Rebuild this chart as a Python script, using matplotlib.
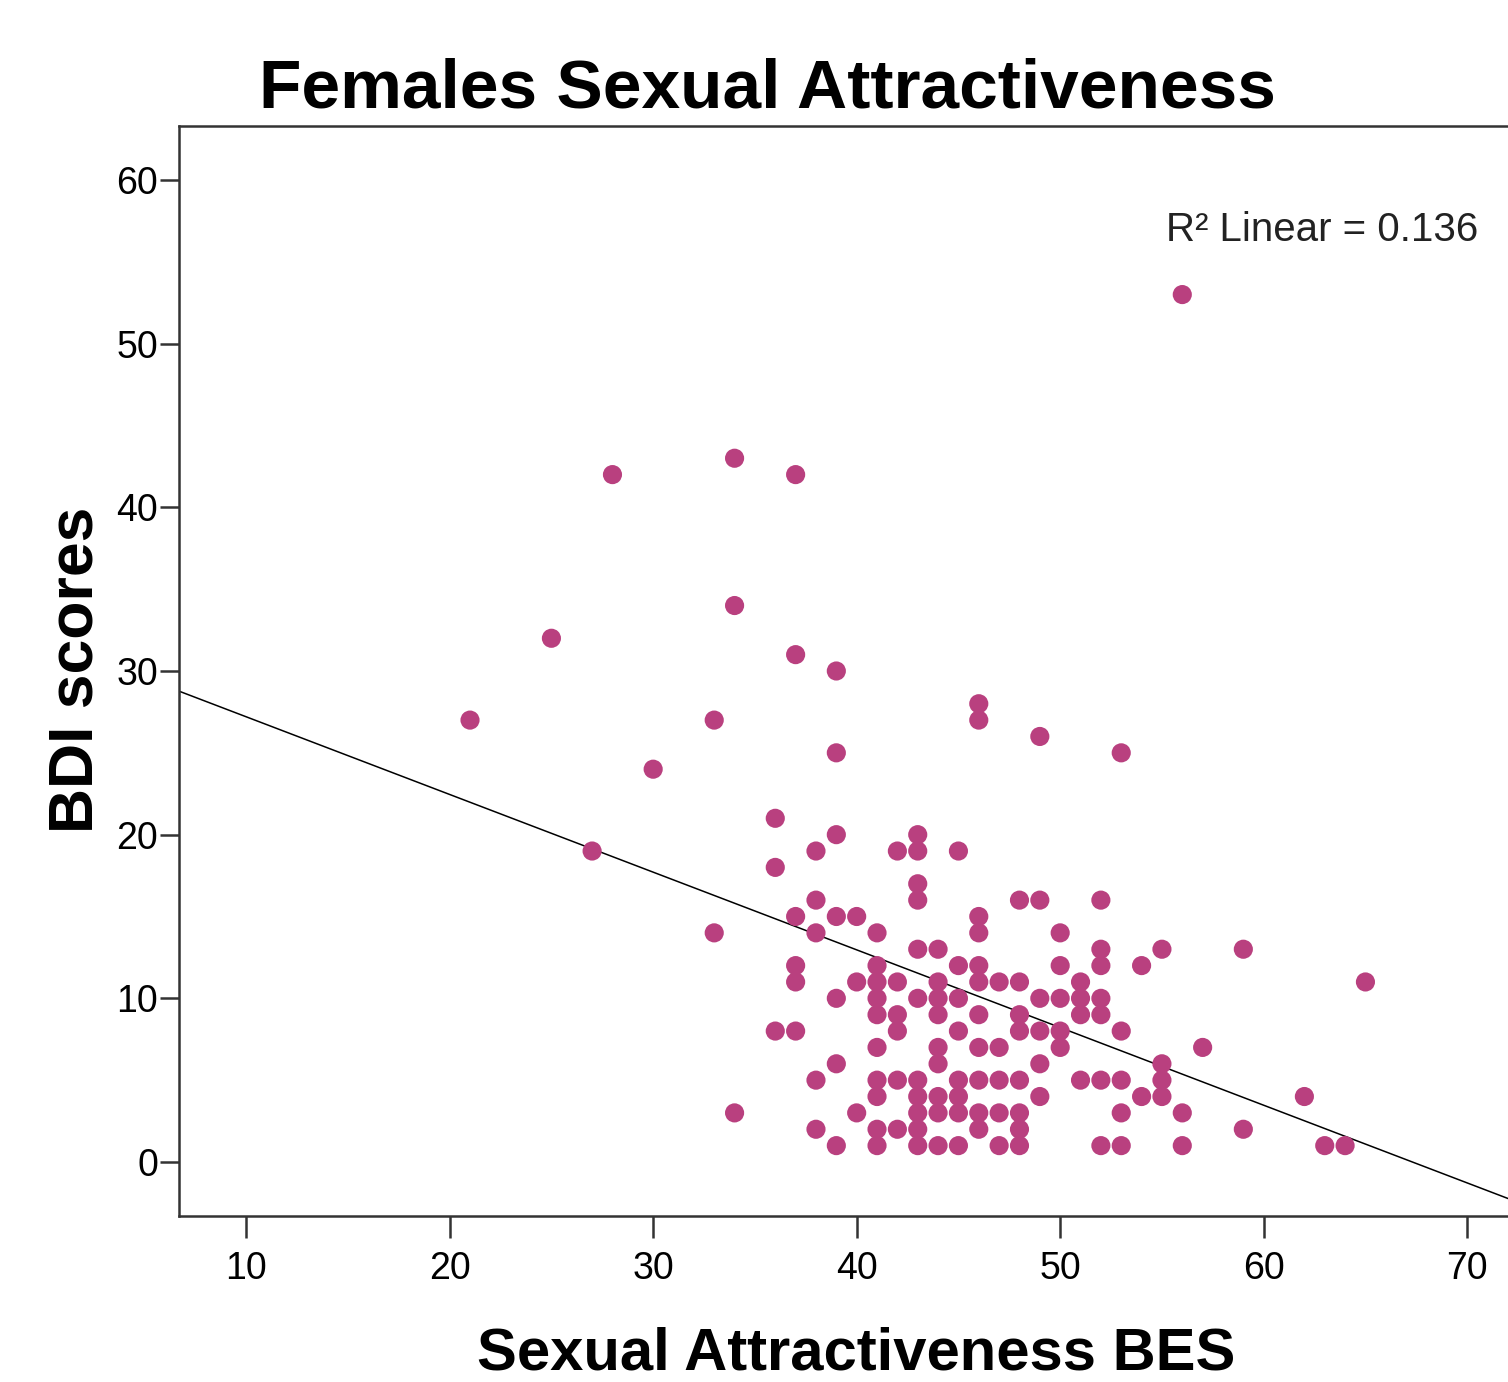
import matplotlib.pyplot as plt
import numpy as np

plt.rcParams['font.family'] = ['Liberation Sans', 'DejaVu Sans']

# Sexual Attractiveness BES score -> list of BDI scores at that score
bes_values = [21, 25, 27, 28, 30, 33, 34, 36, 37, 38, 39, 40, 41, 42, 43, 44, 45,
              46, 47, 48, 49, 50, 51, 52, 53, 54, 55, 56, 57, 59, 62, 63, 64, 65]
bdi_groups = [
    [27],
    [32],
    [19],
    [42],
    [24],
    [27, 14],
    [43, 34, 3],
    [21, 18, 8],
    [42, 31, 15, 12, 11, 8],
    [19, 16, 14, 5, 2],
    [30, 25, 20, 15, 10, 6, 1],
    [15, 11, 3],
    [14, 12, 11, 10, 9, 7, 5, 4, 2, 1],
    [19, 11, 9, 8, 5, 2],
    [20, 19, 17, 16, 13, 10, 5, 4, 3, 2, 1],
    [13, 11, 10, 9, 7, 6, 4, 3, 1],
    [19, 12, 10, 8, 5, 4, 3, 1],
    [28, 27, 15, 14, 12, 11, 9, 7, 5, 3, 2],
    [11, 7, 5, 3, 1],
    [16, 11, 9, 8, 5, 3, 2, 1],
    [26, 16, 10, 8, 6, 4],
    [14, 12, 10, 8, 7],
    [11, 10, 9, 5],
    [16, 13, 12, 10, 9, 5, 1],
    [25, 8, 5, 3, 1],
    [12, 4],
    [13, 6, 5, 4],
    [53, 3, 1],
    [7],
    [13, 2],
    [4],
    [1],
    [1],
    [11],
]
# fit line as shown in the chart (full sample, some points hidden under others)
fit_slope = -0.4747
fit_intercept = 31.95
x_ticks = [10, 20, 30, 40, 50, 60, 70]
y_ticks = [0, 10, 20, 30, 40, 50, 60]
r2_text = "R\u00b2 Linear = 0.136"


def main():
    x = []
    y = []
    for b, group in zip(bes_values, bdi_groups):
        for v in group:
            x.append(b)
            y.append(v)

    fig = plt.figure(figsize=(15.08, 13.82), dpi=100)
    ax = fig.add_axes([179 / 1508, 1 - 1216 / 1382, 1335 / 1508, 1090 / 1382])

    xlim = (6.7, 72.3)
    ax.set_xlim(xlim)
    ax.set_ylim(-3.3, 63.3)

    ax.scatter(x, y, s=190, color="#b9407f", edgecolors="none", zorder=3)

    lx = np.array(xlim)
    ax.plot(lx, fit_intercept + fit_slope * lx, color="black", linewidth=1.1, zorder=2)

    ax.set_xticks(x_ticks)
    ax.set_yticks(y_ticks)
    ax.tick_params(axis="x", length=16, width=1.8, pad=9, labelsize=27, color="#333333")
    ax.tick_params(axis="y", length=14, width=1.8, pad=1, labelsize=27, color="#333333")
    for s in ax.spines.values():
        s.set_linewidth(1.8)
        s.set_color("#333333")

    ax.text(0.739, 0.905, r2_text, transform=ax.transAxes, fontsize=29,
            color="#222222", ha="left", va="center")

    fig.text(767 / 1508, 1 - 108 / 1382, "Females Sexual Attractiveness",
             fontsize=50, fontweight="bold", ha="center", va="baseline")
    fig.text(856 / 1508, 1 - 1370 / 1382, "Sexual Attractiveness BES",
             fontsize=43, fontweight="bold", ha="center", va="baseline")
    fig.text(76 / 1508, 1 - 670 / 1382, "BDI scores", rotation=90,
             fontsize=45, fontweight="bold", ha="center", va="center")

    fig.savefig("out.png", dpi=100)


if __name__ == "__main__":
    main()
